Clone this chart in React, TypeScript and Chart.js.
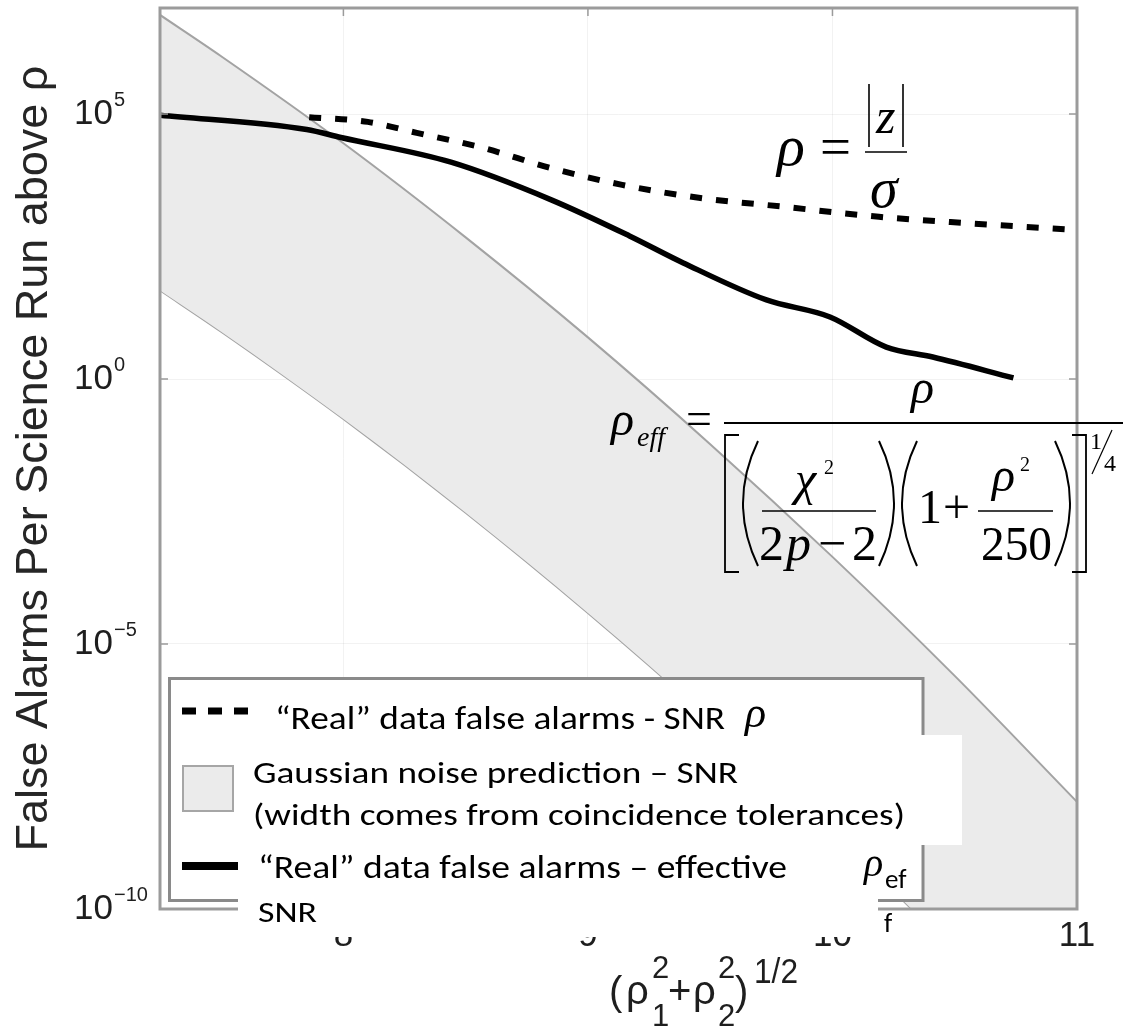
import React, { useEffect, useRef } from 'react';
import { Chart, registerables } from 'chart.js';

Chart.register(...registerables);

// ---- axis ticks ----
const xTickValues = [8, 9, 10, 11];
const yTickValues = [1e-10, 1e-5, 1, 1e5];
const yTickExponents = ['\u221210', '\u22125', '0', '5'];

// ---- Gaussian noise prediction band (upper / lower edges) ----
const gaussX = [7.25, 7.5, 8, 8.5, 9, 9.5, 10, 10.5, 11];
const gaussUpper = [7.4e6, 1.23e6, 2.8e4, 470, 6.1, 5.9e-2, 4.4e-4, 2.5e-6, 1.05e-8];
const gaussLower = [47, 7.8, 0.176, 3.0e-3, 3.85e-5, 3.75e-7, 2.8e-9, 1.55e-11, 6.6e-14];

// ---- "Real" data false alarms, SNR rho (dashed) ----
const snrX = [7.86, 8.1, 8.3, 8.57, 8.85, 9.14, 9.46, 9.79, 10.19, 10.55, 11.0];
const snrY = [8.7e4, 7.1e4, 4.4e4, 2.3e4, 9.5e3, 4.6e3, 2.6e3, 1.8e3, 1.15e3, 870, 650];

// ---- "Real" data false alarms, effective SNR (solid) ----
const effX = [7.25, 7.85, 7.99, 8.44, 8.85, 9.17, 9.39, 9.73, 9.99, 10.22, 10.41, 10.74];
const effY = [9.5e4, 5.1e4, 3.6e4, 1.23e4, 2.4e3, 500, 155, 31, 14.8, 4.0, 2.6, 1.05];

const SANS = '"Liberation Sans", Arial, Helvetica, sans-serif';
const SERIF = '"Liberation Serif", "Times New Roman", serif';
const LEG = 'Carlito, Lato, "Open Sans", sans-serif';

const zip = (xs: number[], ys: number[]) => xs.map((x, i) => ({ x, y: ys[i] }));

const framePlugin = {
  id: 'frameAndExponents',
  afterDraw(chart: any) {
    const { ctx, chartArea, scales } = chart;
    const { left, top, right, bottom } = chartArea;
    const xs = scales.x;
    const ys = scales.y;
    ctx.save();
    ctx.strokeStyle = '#9b9b9b';
    ctx.lineWidth = 1.5;
    ctx.beginPath();
    xTickValues.forEach((v) => {
      const px = xs.getPixelForValue(v);
      ctx.moveTo(px, bottom);
      ctx.lineTo(px, bottom - 8);
      ctx.moveTo(px, top);
      ctx.lineTo(px, top + 8);
    });
    yTickValues.forEach((v) => {
      const py = ys.getPixelForValue(v);
      ctx.moveTo(left, py);
      ctx.lineTo(left + 8, py);
      ctx.moveTo(right, py);
      ctx.lineTo(right - 8, py);
    });
    ctx.stroke();
    ctx.lineWidth = 3;
    ctx.strokeRect(left, top, right - left, bottom - top);
    // exponents of the y tick labels
    ctx.fillStyle = '#1e1e1e';
    ctx.font = '20px ' + SANS;
    ctx.textAlign = 'left';
    ctx.textBaseline = 'alphabetic';
    yTickValues.forEach((v, i) => {
      const py = ys.getPixelForValue(v);
      ctx.fillText(yTickExponents[i], ys.right - 46, py - 8);
    });
    ctx.restore();
  },
};

function App() {
  const canvasRef = useRef<HTMLCanvasElement | null>(null);

  useEffect(() => {
    const canvas = canvasRef.current;
    if (!canvas) return;
    const chart = new Chart(canvas, {
      type: 'line',
      data: {
        datasets: [
          {
            label: '"Real" data false alarms - effective SNR',
            data: zip(effX, effY),
            borderColor: '#000',
            borderWidth: 5.5,
            pointRadius: 0,
            fill: false,
            cubicInterpolationMode: 'monotone',
          },
          {
            label: '"Real" data false alarms - SNR',
            data: zip(snrX, snrY),
            borderColor: '#000',
            borderWidth: 6,
            borderDash: [12, 14],
            borderCapStyle: 'butt',
            pointRadius: 0,
            fill: false,
            cubicInterpolationMode: 'monotone',
          },
          {
            label: 'Gaussian noise prediction (upper)',
            data: zip(gaussX, gaussUpper),
            borderColor: '#a3a3a3',
            borderWidth: 2,
            backgroundColor: '#ebebeb',
            pointRadius: 0,
            fill: '+1',
            cubicInterpolationMode: 'monotone',
          },
          {
            label: 'Gaussian noise prediction (lower)',
            data: zip(gaussX, gaussLower),
            borderColor: '#a3a3a3',
            borderWidth: 2,
            pointRadius: 0,
            fill: false,
            cubicInterpolationMode: 'monotone',
          },
        ],
      },
      options: {
        animation: false,
        responsive: false,
        devicePixelRatio: 1,
        layout: { padding: { left: 0, top: 8, right: 46, bottom: 0 } },
        plugins: { legend: { display: false }, tooltip: { enabled: false } },
        scales: {
          x: {
            type: 'linear',
            min: 7.25,
            max: 11,
            afterFit: (s: any) => {
              s.height = 117;
              s.paddingLeft = 0;
              s.paddingRight = 0;
            },
            afterBuildTicks: (s: any) => {
              s.ticks = xTickValues.map((v) => ({ value: v }));
            },
            ticks: {
              color: '#1e1e1e',
              font: { size: 35, family: SANS },
              padding: 6,
              maxRotation: 0,
              callback: (v: any) => String(v),
            },
            grid: { color: 'rgba(0,0,0,0.05)', drawTicks: false },
            border: { display: false },
          },
          y: {
            type: 'logarithmic',
            min: 1e-10,
            max: 1e7,
            afterFit: (s: any) => {
              s.width = 160;
              s.paddingTop = 0;
              s.paddingBottom = 0;
            },
            afterBuildTicks: (s: any) => {
              s.ticks = yTickValues.map((v) => ({ value: v }));
            },
            ticks: {
              color: '#1e1e1e',
              font: { size: 35, family: SANS },
              padding: 47,
              callback: () => '10',
            },
            grid: { color: 'rgba(0,0,0,0.05)', drawTicks: false },
            border: { display: false },
            title: {
              display: true,
              text: 'False Alarms Per Science Run above \u03c1',
              color: '#262626',
              font: { size: 45, family: SANS },
              padding: { top: 8, bottom: 0 },
            },
          },
        },
      },
      plugins: [framePlugin],
    } as any);
    return () => chart.destroy();
  }, []);

  const it = { fontStyle: 'italic' as const };

  return (
    <div style={{ position: 'absolute', left: 0, top: 0, width: 1123, height: 1026, background: '#fff' }}>
      <canvas ref={canvasRef} width={1123} height={1026} style={{ position: 'absolute', left: 0, top: 0 }} />
      <svg
        width={1123}
        height={1026}
        style={{ position: 'absolute', left: 0, top: 0, pointerEvents: 'none' }}
      >
        {/* rho = |z| / sigma */}
        <g fontFamily={SERIF} fill="#000">
          <text x={777} y={165} fontSize={58} {...it}>ρ</text>
          <text x={820} y={165} fontSize={55}>=</text>
          <line x1={865} x2={907} y1={152} y2={152} stroke="#000" strokeWidth={1.6} />
          <line x1={869} x2={869} y1={84} y2={147} stroke="#000" strokeWidth={1.6} />
          <line x1={903} x2={903} y1={84} y2={147} stroke="#000" strokeWidth={1.6} />
          <text x={876} y={133} fontSize={50} {...it}>z</text>
          <text x={870} y={207} fontSize={56} {...it}>σ</text>
        </g>

        {/* rho_eff formula */}
        <g fontFamily={SERIF} fill="#000">
          <text x={611} y={435} fontSize={48} {...it}>ρ</text>
          <text x={637} y={446} fontSize={28} {...it}>eff</text>
          <text x={686} y={434} fontSize={46}>=</text>
          <text x={911} y={403} fontSize={48} {...it}>ρ</text>
          <line x1={724} x2={1123} y1={423} y2={423} stroke="#000" strokeWidth={1.8} />
          <path d="M739 435 L725 435 L725 572 L739 572" fill="none" stroke="#000" strokeWidth={1.8} />
          <path d="M1072 435 L1086 435 L1086 572 L1072 572" fill="none" stroke="#000" strokeWidth={1.8} />
          <path d="M758 441 Q728 503 758 566" fill="none" stroke="#000" strokeWidth={2} />
          <path d="M879 441 Q909 503 879 566" fill="none" stroke="#000" strokeWidth={2} />
          <path d="M917 441 Q887 503 917 566" fill="none" stroke="#000" strokeWidth={2} />
          <path d="M1055 441 Q1085 503 1055 566" fill="none" stroke="#000" strokeWidth={2} />
          <text x={795} y={495} fontSize={48} {...it}>χ</text>
          <text x={824} y={474} fontSize={20}>2</text>
          <line x1={762} x2={876} y1={511} y2={511} stroke="#000" strokeWidth={1.5} />
          <text x={759} y={560} fontSize={50}>2</text>
          <text x={786} y={560} fontSize={50} {...it}>p</text>
          <text x={818} y={560} fontSize={50}>−</text>
          <text x={852} y={560} fontSize={50}>2</text>
          <text x={918} y={523} fontSize={48}>1</text>
          <text x={943} y={523} fontSize={48}>+</text>
          <text x={992} y={491} fontSize={48} {...it}>ρ</text>
          <text x={1020} y={471} fontSize={20}>2</text>
          <line x1={978} x2={1053} y1={511} y2={511} stroke="#000" strokeWidth={1.5} />
          <text x={981} y={560} fontSize={48} textLength={71} lengthAdjust="spacingAndGlyphs">250</text>
          <text x={1090} y={449} fontSize={24}>1</text>
          <line x1={1092} x2={1112} y1={474} y2={430} stroke="#000" strokeWidth={1.2} />
          <text x={1104} y={471} fontSize={24}>4</text>
        </g>

        {/* x axis title */}
        <g fontFamily={SANS} fill="#1e1e1e">
          <text x={609} y={1005} fontSize={40}>(</text>
          <text x={626} y={1004} fontSize={40}>ρ</text>
          <text x={652} y={978} fontSize={31}>2</text>
          <text x={652} y={1026} fontSize={31}>1</text>
          <text x={668} y={1004} fontSize={40}>+</text>
          <text x={693} y={1004} fontSize={40}>ρ</text>
          <text x={718} y={978} fontSize={31}>2</text>
          <text x={718} y={1026} fontSize={31}>2</text>
          <text x={735} y={1005} fontSize={40}>)</text>
          <text x={754} y={983} fontSize={35} textLength={44} lengthAdjust="spacingAndGlyphs">1/2</text>
        </g>

        {/* legend (pasted box) */}
        <rect x={169.5} y={678.5} width={753.5} height={222} fill="#fff" stroke="#8a8a8a" strokeWidth={3} />
        <rect x={238} y={899} width={640} height={38} fill="#fff" />
        <rect x={921} y={735} width={41} height={110} fill="#fff" />

        <line x1={182} x2={248} y1={711} y2={711} stroke="#000" strokeWidth={7} strokeDasharray="14 12" />
        <rect x={183} y={766} width={50} height={45} fill="#ebebeb" stroke="#a6a6a6" strokeWidth={2} />
        <line x1={182} x2={238} y1={866} y2={866} stroke="#000" strokeWidth={8} />

        <g fontFamily={LEG} fill="#000">
          <text x={275} y={729} fontSize={32} textLength={450} lengthAdjust="spacingAndGlyphs">
            “Real” data false alarms - SNR
          </text>
          <text x={253} y={783} fontSize={31} textLength={485} lengthAdjust="spacingAndGlyphs">
            Gaussian noise prediction – SNR
          </text>
          <text x={253} y={825} fontSize={31} textLength={652} lengthAdjust="spacingAndGlyphs">
            (width comes from coincidence tolerances)
          </text>
          <text x={258} y={878} fontSize={32} textLength={529} lengthAdjust="spacingAndGlyphs">
            “Real” data false alarms – effective
          </text>
          <text x={885} y={888} fontSize={27}>ef</text>
          <text x={884} y={932} fontSize={27}>f</text>
          <text x={258} y={922} fontSize={28} textLength={59} lengthAdjust="spacingAndGlyphs">SNR</text>
        </g>
        <g fontFamily={SERIF} fill="#000">
          <text x={745} y={727} fontSize={44} {...it}>ρ</text>
          <text x={864} y={876} fontSize={40} {...it}>ρ</text>
        </g>
      </svg>
    </div>
  );
}

export default App;
